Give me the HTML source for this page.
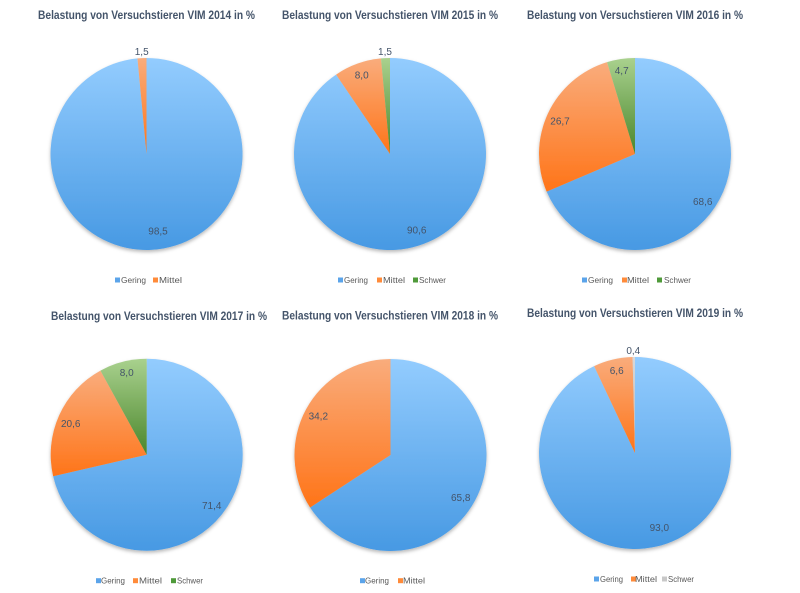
<!DOCTYPE html>
<html>
<head>
<meta charset="utf-8">
<style>
html,body{margin:0;padding:0;background:#fff;}
svg{display:block;}
.t{font-family:"Liberation Sans",sans-serif;font-weight:bold;font-size:12px;fill:#44546A;}
.l{font-family:"Liberation Sans",sans-serif;font-size:10px;fill:#44546A;text-anchor:middle;}
.g{font-family:"Liberation Sans",sans-serif;font-size:8.5px;fill:#595959;}
</style>
</head>
<body>
<svg width="800" height="593" viewBox="0 0 800 593" xmlns="http://www.w3.org/2000/svg">
<defs>
<linearGradient id="gb" x1="0" y1="0" x2="0" y2="1"><stop offset="0" stop-color="#93CCFE"/><stop offset="1" stop-color="#4799E3"/></linearGradient>
<linearGradient id="go" x1="0" y1="0" x2="0" y2="1"><stop offset="0" stop-color="#F9AC7C"/><stop offset="1" stop-color="#FF7418"/></linearGradient>
<linearGradient id="gg" x1="0" y1="0" x2="0" y2="1"><stop offset="0" stop-color="#A9D18E"/><stop offset="1" stop-color="#4A862B"/></linearGradient>
<linearGradient id="gy" x1="0" y1="0" x2="0" y2="1"><stop offset="0" stop-color="#D8D8D8"/><stop offset="1" stop-color="#B8B8B8"/></linearGradient>
<filter id="sh" x="-10%" y="-10%" width="120%" height="125%">
<feDropShadow dx="0" dy="2" stdDeviation="1.8" flood-color="#000" flood-opacity="0.28"/>
</filter>
</defs>

<!-- Chart 1: 2014 -->
<text class="t" x="38" y="19" textLength="217" lengthAdjust="spacingAndGlyphs">Belastung von Versuchstieren VIM 2014 in %</text>
<g filter="url(#sh)">
<path d="M146.5,154 L146.5,58 A96,96 0 1 1 137.47,58.43 Z" fill="url(#gb)"/>
<path d="M146.5,154 L137.47,58.43 A96,96 0 0 1 146.5,58 Z" fill="url(#go)"/>
</g>
<text class="l" x="141.7" y="55">1,5</text>
<text class="l" x="158" y="234.5">98,5</text>
<rect x="115" y="277.5" width="5" height="5" fill="#5BA4EA"/>
<text class="g" x="121" y="283" textLength="25" lengthAdjust="spacingAndGlyphs">Gering</text>
<rect x="153" y="277.5" width="5" height="5" fill="#FF8B3A"/>
<text class="g" x="159" y="283" textLength="23" lengthAdjust="spacingAndGlyphs">Mittel</text>

<!-- Chart 2: 2015 -->
<text class="t" x="282" y="19" textLength="216" lengthAdjust="spacingAndGlyphs">Belastung von Versuchstieren VIM 2015 in %</text>
<g filter="url(#sh)">
<path d="M390,154 L390,58 A96,96 0 1 1 336.09,74.57 Z" fill="url(#gb)"/>
<path d="M390,154 L336.09,74.57 A96,96 0 0 1 380.97,58.43 Z" fill="url(#go)"/>
<path d="M390,154 L380.97,58.43 A96,96 0 0 1 390,58 Z" fill="url(#gg)"/>
</g>
<text class="l" x="385" y="55">1,5</text>
<text class="l" x="361.7" y="78.5">8,0</text>
<text class="l" x="416.7" y="233.5">90,6</text>
<rect x="338" y="277.5" width="5" height="5" fill="#5BA4EA"/>
<text class="g" x="344" y="283" textLength="24" lengthAdjust="spacingAndGlyphs">Gering</text>
<rect x="377" y="277.5" width="5" height="5" fill="#FF8B3A"/>
<text class="g" x="383" y="283" textLength="22" lengthAdjust="spacingAndGlyphs">Mittel</text>
<rect x="413" y="277.5" width="5" height="5" fill="#4F9A3A"/>
<text class="g" x="419" y="283" textLength="27" lengthAdjust="spacingAndGlyphs">Schwer</text>

<!-- Chart 3: 2016 -->
<text class="t" x="527" y="19" textLength="216" lengthAdjust="spacingAndGlyphs">Belastung von Versuchstieren VIM 2016 in %</text>
<g filter="url(#sh)">
<path d="M635,154 L635,58 A96,96 0 1 1 546.65,191.57 Z" fill="url(#gb)"/>
<path d="M635,154 L546.65,191.57 A96,96 0 0 1 607.06,62.16 Z" fill="url(#go)"/>
<path d="M635,154 L607.06,62.16 A96,96 0 0 1 635,58 Z" fill="url(#gg)"/>
</g>
<text class="l" x="621.7" y="74.2">4,7</text>
<text class="l" x="560" y="124.5">26,7</text>
<text class="l" x="702.7" y="205.2">68,6</text>
<rect x="582" y="277.5" width="5" height="5" fill="#5BA4EA"/>
<text class="g" x="588" y="283" textLength="25" lengthAdjust="spacingAndGlyphs">Gering</text>
<rect x="622" y="277.5" width="5" height="5" fill="#FF8B3A"/>
<text class="g" x="627" y="283" textLength="22" lengthAdjust="spacingAndGlyphs">Mittel</text>
<rect x="657" y="277.5" width="5" height="5" fill="#4F9A3A"/>
<text class="g" x="664" y="283" textLength="27" lengthAdjust="spacingAndGlyphs">Schwer</text>

<!-- Chart 4: 2017 -->
<text class="t" x="51" y="320" textLength="216" lengthAdjust="spacingAndGlyphs">Belastung von Versuchstieren VIM 2017 in %</text>
<g filter="url(#sh)">
<path d="M146.7,454.7 L146.7,358.7 A96,96 0 1 1 53.15,476.23 Z" fill="url(#gb)"/>
<path d="M146.7,454.7 L53.15,476.23 A96,96 0 0 1 100.45,370.58 Z" fill="url(#go)"/>
<path d="M146.7,454.7 L100.45,370.58 A96,96 0 0 1 146.7,358.7 Z" fill="url(#gg)"/>
</g>
<text class="l" x="126.7" y="375.8">8,0</text>
<text class="l" x="70.7" y="426.8">20,6</text>
<text class="l" x="211.7" y="509.2">71,4</text>
<rect x="96" y="578.2" width="5" height="5" fill="#5BA4EA"/>
<text class="g" x="101" y="583.7" textLength="24" lengthAdjust="spacingAndGlyphs">Gering</text>
<rect x="133" y="578.2" width="5" height="5" fill="#FF8B3A"/>
<text class="g" x="139" y="583.7" textLength="23" lengthAdjust="spacingAndGlyphs">Mittel</text>
<rect x="171" y="578.2" width="5" height="5" fill="#4F9A3A"/>
<text class="g" x="177" y="583.7" textLength="26" lengthAdjust="spacingAndGlyphs">Schwer</text>

<!-- Chart 5: 2018 -->
<text class="t" x="282" y="319.5" textLength="216" lengthAdjust="spacingAndGlyphs">Belastung von Versuchstieren VIM 2018 in %</text>
<g filter="url(#sh)">
<path d="M390.5,455 L390.5,359 A96,96 0 1 1 310.09,507.44 Z" fill="url(#gb)"/>
<path d="M390.5,455 L310.09,507.44 A96,96 0 0 1 390.5,359 Z" fill="url(#go)"/>
</g>
<text class="l" x="318.3" y="419.5">34,2</text>
<text class="l" x="460.7" y="500.8">65,8</text>
<rect x="360" y="578.2" width="5" height="5" fill="#5BA4EA"/>
<text class="g" x="365" y="583.7" textLength="24" lengthAdjust="spacingAndGlyphs">Gering</text>
<rect x="398" y="578.2" width="5" height="5" fill="#FF8B3A"/>
<text class="g" x="403" y="583.7" textLength="22" lengthAdjust="spacingAndGlyphs">Mittel</text>

<!-- Chart 6: 2019 -->
<text class="t" x="527" y="317" textLength="216" lengthAdjust="spacingAndGlyphs">Belastung von Versuchstieren VIM 2019 in %</text>
<g filter="url(#sh)">
<path d="M635,453 L635,357 A96,96 0 1 1 594.12,366.14 Z" fill="url(#gb)"/>
<path d="M635,453 L594.12,366.14 A96,96 0 0 1 632.59,357.03 Z" fill="url(#go)"/>
<path d="M635,453 L632.59,357.03 A96,96 0 0 1 635,357 Z" fill="url(#gy)"/>
</g>
<text class="l" x="633.3" y="354.2">0,4</text>
<text class="l" x="616.7" y="374.2">6,6</text>
<text class="l" x="659.3" y="530.8">93,0</text>
<rect x="594" y="576.5" width="5" height="5" fill="#5BA4EA"/>
<text class="g" x="600" y="582" textLength="23" lengthAdjust="spacingAndGlyphs">Gering</text>
<rect x="631" y="576.5" width="5" height="5" fill="#FF8B3A"/>
<text class="g" x="635" y="582" textLength="22" lengthAdjust="spacingAndGlyphs">Mittel</text>
<rect x="662" y="576.5" width="5" height="5" fill="#C8C8C8"/>
<text class="g" x="668" y="582" textLength="26" lengthAdjust="spacingAndGlyphs">Schwer</text>
</svg>
</body>
</html>
